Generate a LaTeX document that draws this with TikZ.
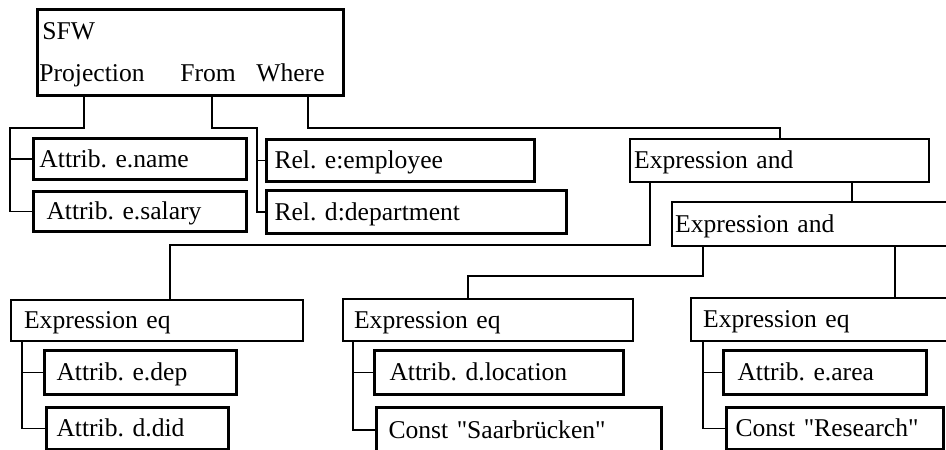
\documentclass[tikz,border=0pt]{standalone}
\usepackage{fontspec}
\setmainfont{Liberation Serif}
\frenchspacing
\tikzset{
  box/.style={draw, line width=1.1pt, anchor=north west, inner ysep=0pt,
    align=left, text height=10.5pt, text depth=2.5pt, font=\fontsize{12.8}{15}\selectfont},
  leaf/.style={box, line width=1.5pt},
  % width, height, left inset (in px)
  wh/.style n args={3}{minimum width=#1*0.5pt, minimum height=#2*0.5pt,
    inner xsep=#3*0.5pt, text width=#1*0.5pt-#3*1pt},
  lbl/.style={anchor=base west, inner sep=0pt, font=\fontsize{12.8}{15}\selectfont},
  wire/.style={line width=0.9pt}
}
\begin{document}
\begin{tikzpicture}[x=0.5pt,y=-0.5pt]
    \useasboundingbox (0,0) rectangle (946,449);
    % root
    \node[leaf, wh={306}{86}{4}] (sfw) at (36,8) {};
    \node[lbl] (sfwname) at (42,40) {SFW};
    \node[lbl] (proj) at (39,82) {Projection};
    \node[lbl] (from) at (180,82) {From};
    \node[lbl] (where) at (256,82) {Where};
    % projection / from
    \node[leaf, wh={213}{41}{6}] (ename) at (32,137) {Attrib. e.name};
    \node[leaf, wh={213}{40}{13}] (esalary) at (32,190) {Attrib. e.salary};
    \node[leaf, wh={268}{42}{8}] (remp) at (265,138) {Rel. e:employee};
    \node[leaf, wh={300}{43}{8}] (rdep) at (265,189) {Rel. d:department};
    % where
    \node[box, wh={299}{43}{4}] (and1) at (629,138) {Expression and};
    \node[box, wh={300}{44}{3}] (and2) at (671,201) {Expression and};
    \node[box, wh={292}{41}{13}] (eq1) at (10,299) {Expression eq};
    \node[box, wh={290}{42}{11}] (eq2) at (342,298) {Expression eq};
    \node[box, wh={290}{43}{12}] (eq3) at (690,297) {Expression eq};
    \node[leaf, wh={192}{44}{12}] (edep) at (43,349) {Attrib. e.dep};
    \node[leaf, wh={182}{42}{10}] (ddid) at (45,406) {Attrib. d.did};
    \node[leaf, wh={249}{44}{15}] (dloc) at (373,349) {Attrib. d.location};
    \node[leaf, wh={285}{45}{12}] (saar) at (375,406) {Const \textquotedbl Saarbrücken\textquotedbl};
    \node[leaf, wh={203}{44}{14}] (earea) at (722,349) {Attrib. e.area};
    \node[leaf, wh={217}{42}{9}] (research) at (725,406) {Const \textquotedbl Research\textquotedbl};

    \draw[wire] ([xshift=24pt]sfw.south west) -- ++(0,31) -- ++(-74,0) |- (esalary.west);
    \draw[wire] (ename.west) -- ++(-22,0);
    \draw[wire] ([xshift=88pt]sfw.south west) -- ++(0,31) -- ++(45,0) |- (rdep.west);
    \draw[wire] (remp.west) -- ++(-8,0);
    \draw[wire] ([xshift=136pt]sfw.south west) -- ++(0,31) -| (and1.north);

    \draw[wire] ([xshift=10.5pt]and1.south west) -- ++(0,62) -| ([xshift=80pt]eq1.north west);
    \draw[wire] ([xshift=111.5pt]and1.south west) -- ([xshift=90.5pt]and2.north west);
    \draw[wire] ([xshift=16pt]and2.south west) -- ++(0,29) -| ([xshift=63pt]eq2.north west);
    \draw[wire] ([xshift=112pt]and2.south west) -- ([xshift=102.5pt]eq3.north west);

    \draw[wire] ([xshift=6pt]eq1.south west) |- (ddid.west);
    \draw[wire] (edep.west) -- ++(-21,0);
    \draw[wire] ([xshift=5.5pt]eq2.south west) |- (saar.west);
    \draw[wire] (dloc.west) -- ++(-20,0);
    \draw[wire] ([xshift=6.5pt]eq3.south west) |- (research.west);
    \draw[wire] (earea.west) -- ++(-19,0);
\end{tikzpicture}
\end{document}
